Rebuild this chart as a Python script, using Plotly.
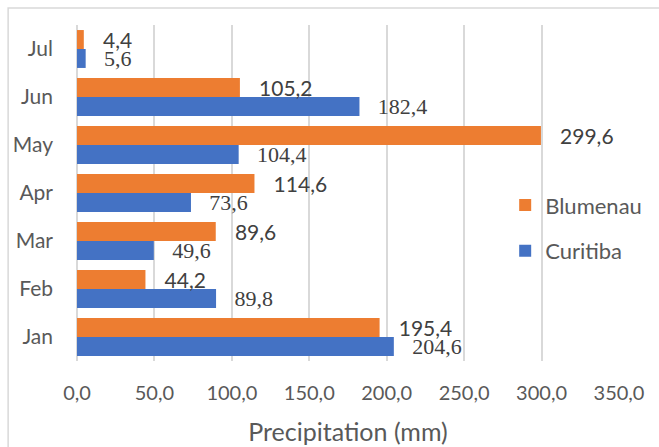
import plotly.graph_objects as go

# Monthly precipitation (mm), January to July
months = ["Jan", "Feb", "Mar", "Apr", "May", "Jun", "Jul"]
blumenau = [195.4, 44.2, 89.6, 114.6, 299.6, 105.2, 4.4]
curitiba = [204.6, 89.8, 49.6, 73.6, 104.4, 182.4, 5.6]
x_ticks = [0, 50, 100, 150, 200, 250, 300, 350]

ORANGE = "#ED7D31"
BLUE = "#4472C4"
GRID = "#D9D9D9"
TXT = "#595959"
LBL = "#404040"
SANS = "Lato"
SERIF = "Liberation Serif"


def fmt(v):
    return f"{v:.1f}".replace(".", ",")


fig = go.Figure()
fig.add_trace(go.Bar(
    y=months, x=curitiba, name="Curitiba", orientation="h",
    marker=dict(color=BLUE, line=dict(width=0)),
    text=["\u00a0\u00a0\u2009" + fmt(v) for v in curitiba],
    textposition="outside", constraintext="none", cliponaxis=False,
    textfont=dict(family=SERIF, size=22, color=LBL),
    legendgroup="c", legendrank=2, hoverinfo="x+name",
))
fig.add_trace(go.Bar(
    y=months, x=blumenau, name="Blumenau", orientation="h",
    marker=dict(color=ORANGE, line=dict(width=0)),
    text=["\u00a0\u00a0\u00a0" + fmt(v) for v in blumenau],
    textposition="outside", constraintext="none", cliponaxis=False,
    textfont=dict(family=SANS, size=21, color=LBL),
    legendgroup="b", legendrank=1, hoverinfo="x+name",
))

fig.update_layout(
    width=659, height=447,
    margin=dict(l=77, r=35, t=25, b=86),
    paper_bgcolor="white", plot_bgcolor="white",
    barmode="group", bargap=0.21, bargroupgap=0,
    separators=", ",
    font=dict(family=SANS, size=20, color=TXT),
    showlegend=True,
    legend=dict(
        x=0.79, y=0.395, xanchor="left", yanchor="middle",
        traceorder="grouped", tracegroupgap=14,
        bgcolor="rgba(0,0,0,0)", font=dict(family=SANS, size=22, color=TXT),
    ),
    xaxis=dict(
        range=[0, 350], tickvals=x_ticks, tickformat=".1f",
        showgrid=True, gridcolor=GRID, gridwidth=1.5,
        zeroline=True, zerolinecolor=GRID, zerolinewidth=1.5,
        showline=False, ticks="", ticklabelstandoff=18,
        tickfont=dict(family=SANS, size=20, color=TXT),
        title=dict(text="Precipitation (mm)", standoff=20,
                   font=dict(family=SANS, size=25, color=TXT)),
        automargin=False, fixedrange=True,
    ),
    yaxis=dict(
        categoryorder="array", categoryarray=months,
        showgrid=False, showline=False, ticks="", ticklabelstandoff=23,
        tickfont=dict(family=SANS, size=21, color=TXT),
        automargin=False, fixedrange=True,
    ),
    shapes=[dict(
        type="rect", xref="paper", yref="paper",
        x0=(7.5 - 77) / 547, x1=(670 - 77) / 547,
        y0=(361 - 460) / 336, y1=1 + (25 - 8) / 336,
        line=dict(color=GRID, width=1.5), fillcolor="rgba(0,0,0,0)", layer="below",
    )],
)

fig.write_html("out.html")
